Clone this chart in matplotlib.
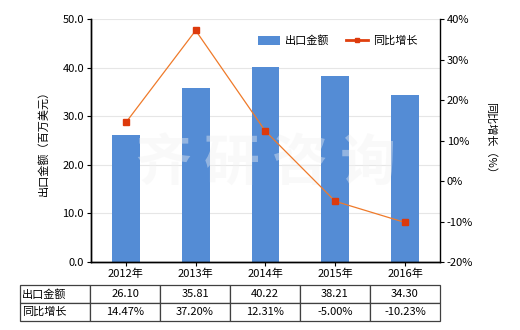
import numpy as np
import matplotlib
matplotlib.use('Agg')
import matplotlib.pyplot as plt
from matplotlib.lines import Line2D
from matplotlib.patches import Patch

plt.rcParams['font.family'] = ['Noto Sans CJK SC', 'DejaVu Sans']

years = ['2012年', '2013年', '2014年', '2015年', '2016年']
export_value = [26.10, 35.81, 40.22, 38.21, 34.30]
yoy_growth = [14.47, 37.20, 12.31, -5.00, -10.23]
export_labels = ['26.10', '35.81', '40.22', '38.21', '34.30']
growth_labels = ['14.47%', '37.20%', '12.31%', '-5.00%', '-10.23%']

bar_color = '#548CD5'
line_color = '#EF7A2A'
marker_color = '#DD3A0C'
fs = 8

fig = plt.figure(figsize=(5.2, 3.3), dpi=100)
ax1 = fig.add_axes([0.175, 0.206, 0.671, 0.736])
ax2 = ax1.twinx()

x = np.arange(len(years))
ax1.bar(x, export_value, width=0.4, color=bar_color, zorder=2)
ax1.set_xlim(-0.5, 4.5)
ax1.set_ylim(0, 50)
ax1.set_yticks(np.arange(0, 51, 10))
ax1.set_yticklabels(['%.1f' % v for v in np.arange(0, 51, 10)], fontsize=fs)
ax1.set_xticks(x)
ax1.set_xticklabels(years, fontsize=fs)
ax1.yaxis.grid(True, color='#e6e6e6', linewidth=0.8, zorder=0)
ax1.set_axisbelow(True)
ax1.set_ylabel('出口金额（百万美元）', fontsize=fs, labelpad=10)
ax1.tick_params(axis='both', length=3, width=0.8, pad=2)

ax2.plot(x, yoy_growth, color=line_color, linewidth=0.9, marker='s', markersize=4,
         markerfacecolor=marker_color, markeredgecolor=marker_color, zorder=3)
ax2.set_ylim(-20, 40)
ax2.set_yticks(np.arange(-20, 41, 10))
ax2.set_yticklabels(['%d%%' % v for v in np.arange(-20, 41, 10)], fontsize=fs)
ax2.set_ylabel('同比增长（%）', fontsize=fs, rotation=270, labelpad=16)
ax2.tick_params(axis='y', length=3, width=0.8, pad=2)

for ax in (ax1, ax2):
    ax.spines['top'].set_visible(False)
    for s in ('left', 'right', 'bottom'):
        ax.spines[s].set_linewidth(1.0)
ax1.spines['right'].set_visible(False)

# legend
handles = [Patch(facecolor=bar_color, edgecolor='none'),
           Line2D([], [], color='#E0400E', linewidth=2, marker='s', markersize=3,
                  markerfacecolor=marker_color, markeredgecolor=marker_color)]
ax2.legend(handles, ['出口金额', '同比增长'], loc='upper right', bbox_to_anchor=(0.965, 0.975), ncol=2,
           frameon=False, fontsize=fs, handlelength=2.0, handleheight=0.9,
           columnspacing=1.5, handletextpad=0.45)

# watermark
ax1.text(0.5, 0.4, '齐 研 咨 询', transform=ax1.transAxes, fontsize=40, fontweight='bold',
         color='#f2f2f2', alpha=0.4, ha='center', va='center', zorder=5)

# data table below the chart
cell_text = [['出口金额'] + export_labels, ['同比增长'] + growth_labels]
tbl = ax1.table(cellText=cell_text, cellLoc='center', bbox=[-0.2034, -0.243, 1.2034, 0.148])
tbl.auto_set_font_size(False)
tbl.set_fontsize(fs)
for (r, c), cell in tbl.get_celld().items():
    cell.set_edgecolor('#404040')
    cell.set_linewidth(0.9)
    if c == 0:
        cell.PAD = 0.03
        cell._loc = 'left'
        cell.get_text().set_ha('left')

fig.savefig('out.png', dpi=100)
plt.close(fig)
